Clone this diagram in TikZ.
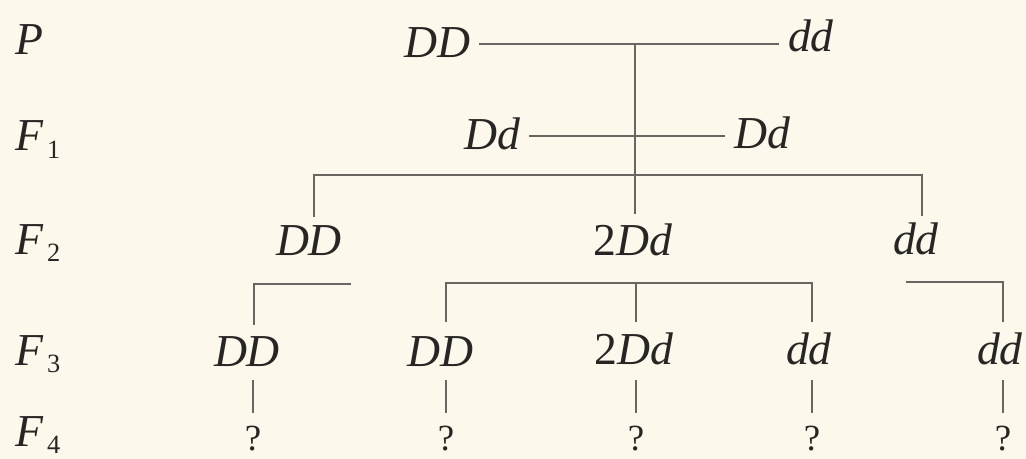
\documentclass[tikz,border=0pt]{standalone}
\usepackage{fontspec}
\setmainfont{Liberation Serif}
\usepackage{xcolor}
\usepackage{tikz}
\definecolor{paper}{RGB}{252,248,236}
\definecolor{ink}{RGB}{40,38,36}
\definecolor{rule}{RGB}{105,102,98}
\newcommand{\filial}[1]{\textit{F}\kern2pt\raisebox{-0.35ex}{\fontsize{15}{15}\selectfont #1}}

\begin{document}
\begin{tikzpicture}[x=0.02cm, y=-0.02cm,
  every node/.style={font=\fontsize{26}{30}\selectfont, text=ink, inner sep=5pt},
  gen/.style={anchor=base west, inner sep=0pt},
  geno/.style={anchor=base},
  open/.style={anchor=base, font=\fontsize{21}{24}\selectfont, inner sep=2pt},
  link/.style={draw=rule, line width=0.9pt}]
  \fill[paper] (0,0) rectangle (1026,459);
  \useasboundingbox (0,0) rectangle (1026,459);
  % generation labels
  \node[gen] (gP) at (15,55) {\textit{P}};
  \node[gen] (g1) at (15,151) {\filial{1}};
  \node[gen] (g2) at (15,254) {\filial{2}};
  \node[gen] (g3) at (15,365) {\filial{3}};
  \node[gen] (g4) at (15,446) {\filial{4}};
  % parents and F1
  \node[geno] (pDD) at (437,58) {\textit{DD}};
  \node[geno] (pdd) at (811,52) {\textit{dd}};
  \node[geno] (f1a) at (492,150) {\textit{Dd}};
  \node[geno] (f1b) at (762,149) {\textit{Dd}};
  % F2
  \node[geno] (f2a) at (309,255) {\textit{DD}};
  \node[geno] (f2b) at (633,255) {2\textit{Dd}};
  \node[geno] (f2c) at (916,254) {\textit{dd}};
  % F3
  \node[geno] (f3a) at (247,366) {\textit{DD}};
  \node[geno] (f3b) at (440,366) {\textit{DD}};
  \node[geno] (f3c) at (634,364) {2\textit{Dd}};
  \node[geno] (f3d) at (809,364) {\textit{dd}};
  \node[geno] (f3e) at (1000,364) {\textit{dd}};
  % F4
  \foreach \n/\x in {a/253, b/446, c/636, d/812, e/1003}
    \node[open] (f4\n) at (\x,450) {?};
  % crossings
  \coordinate (cP) at (635,44);
  \coordinate (j2) at (635,175);
  \coordinate (j3) at (636,283);
  \coordinate (e3a) at (351,284);
  \coordinate (e3e) at (906,282);
  \draw[link] (pDD.east |- cP) -- (pdd.west |- cP);
  \draw[link] (f1a.east |- 0,136) -- (f1b.west |- 0,136);
  \draw[link] (cP) -- (j2) -- (j2 |- f2b.north);
  \draw[link] (314,217) |- (j2) -| (922,216);
  % F3 brackets
  \draw[link] (e3a) -| (254,325);
  \draw[link] (446,322) |- (j3) -| (812,322);
  \draw[link] (j3) -- (636,322);
  \draw[link] (e3e) -| (1003,322);
  % F3 to F4
  \foreach \n/\x in {a/253, b/446, c/636, d/812, e/1003}
    \draw[link, shorten >=5pt] (\x,380) -- (f4\n.north);
\end{tikzpicture}
\end{document}
